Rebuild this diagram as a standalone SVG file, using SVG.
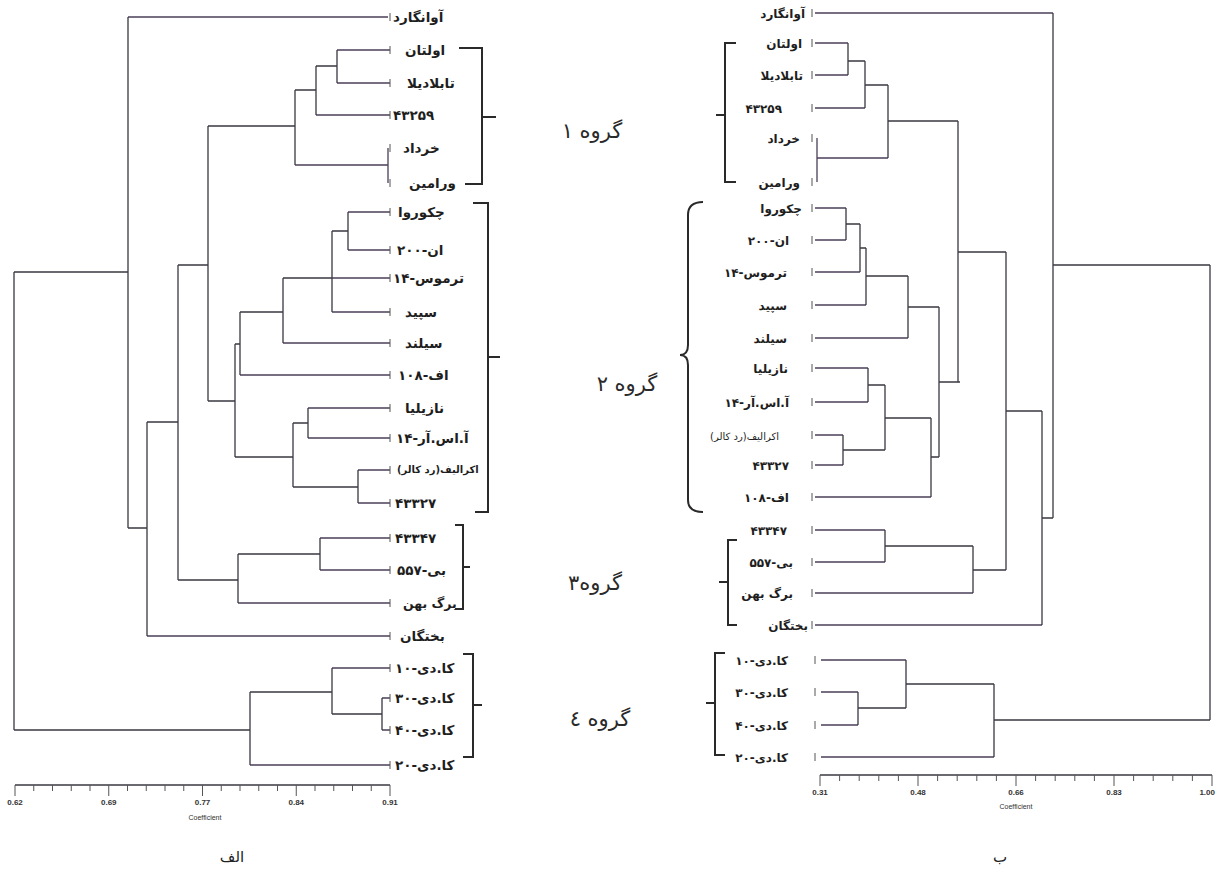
<svg xmlns="http://www.w3.org/2000/svg" width="1216" height="871" viewBox="0 0 1216 871">
  <style>
    .ln { fill: none; stroke: #3b3842; stroke-width: 1.3; }
    .lf { fill: none; stroke: #4b3f58; stroke-width: 1.3; }
    .tk { fill: none; stroke: #555; stroke-width: 1; }
    .br { fill: none; stroke: #2a2a2a; stroke-width: 2; }
    .ax { fill: none; stroke: #3b3842; stroke-width: 1.6; }
    .lbl { font-family: "DejaVu Sans", sans-serif; font-weight: bold; font-size: 13.5px; fill: #1e1e1e; }
    .lbr { font-family: "DejaVu Sans", sans-serif; font-weight: bold; font-size: 12px; fill: #1e1e1e; }
    .grp { font-family: "DejaVu Sans", sans-serif; font-size: 21px; fill: #2a2a2a; }
    .axl { font-family: "Liberation Sans", sans-serif; font-size: 8px; font-weight: bold; fill: #333; }
    .cap { font-family: "Liberation Sans", sans-serif; font-size: 7px; fill: #333; }
    .ttl { font-family: "DejaVu Sans", sans-serif; font-size: 15px; fill: #222; }
  </style>

  <rect width="1216" height="871" fill="#ffffff"/>

  <!-- ===== dendrogram A (left) ===== -->
  <g id="tree-a-connectors">
    <!-- leaves -->
    <path class="lf" d="M128 17H388 M337 50H390 M337 83H390 M316 115H390
                       M388 148V183 M295 165H388
                       M348 212H390 M348 250H390 M332 278H390 M332 312H390
                       M283 343H390 M240 375H390 M308 408H390 M308 438H390
                       M358 470H390 M358 503H390
                       M320 538H390 M320 570H390 M238 603H390 M147 636H390
                       M332 668H390 M382 698H390 M382 730H390 M250 765H390"/>
    <!-- group 1 -->
    <path class="ln" d="M337 50V83 M337 66H316 M316 66V115 M316 90H295 M295 90V165 M295 126H208"/>
    <!-- group 2 -->
    <path class="ln" d="M348 212V250 M348 231H332 M332 231V312 M332 278H283 M283 278V343 M283 312H240
                       M240 312V375 M240 344H235 M308 408V438 M308 423H293 M358 470V503 M358 487H293
                       M293 423V487 M293 457H235 M235 344V457 M235 401H208 M208 126V401 M208 265H178"/>
    <!-- group 3 -->
    <path class="ln" d="M320 538V570 M320 554H238 M238 554V603 M238 580H178 M178 265V580 M178 422H147
                       M147 422V636 M147 528H128 M128 17V528 M128 272H14"/>
    <!-- group 4 and root -->
    <path class="ln" d="M382 698V730 M382 714H332 M332 668V714 M332 692H250 M250 692V765 M250 730H14 M14 272V730"/>
    <!-- leaf end marks -->
    <path class="tk" d="M390 13V21 M390 46V54 M390 79V87 M390 111V119 M390 144V152 M390 179V187
                       M390 208V216 M390 246V254 M390 274V282 M390 308V316 M390 339V347 M390 371V379
                       M390 404V412 M390 434V442 M390 466V474 M390 499V507 M390 534V542 M390 566V574
                       M390 599V607 M390 632V640 M390 664V672 M390 694V702 M390 726V734 M390 761V769"/>
  </g>

  <g id="tree-a-leaves">
    <text class="lbl" x="393" y="22">آوانگارد</text>
    <text class="lbl" x="405" y="55">اولتان</text>
    <text class="lbl" x="407" y="88">تابلادیلا</text>
    <text class="lbl" x="393" y="120">۴۳۲۵۹</text>
    <text class="lbl" x="403" y="153">خرداد</text>
    <text class="lbl" x="409" y="188">ورامین</text>
    <text class="lbl" x="398" y="217">چکوروا</text>
    <text class="lbl" x="397" y="255">ان-۲۰۰</text>
    <text class="lbl" x="393" y="283">ترموس-۱۴</text>
    <text class="lbl" x="405" y="317">سپید</text>
    <text class="lbl" x="405" y="348">سیلند</text>
    <text class="lbl" x="398" y="380">اف-۱۰۸</text>
    <text class="lbl" x="405" y="413">نازیلیا</text>
    <text class="lbl" x="396" y="443">آ.اس.آر-۱۴</text>
    <text class="lbl" x="397" y="473" style="font-size:10px">اکرالیف(رد کالر)</text>
    <text class="lbl" x="395" y="508">۴۳۳۲۷</text>
    <text class="lbl" x="395" y="543">۴۳۳۴۷</text>
    <text class="lbl" x="397" y="575">بی-۵۵۷</text>
    <text class="lbl" x="403" y="608" style="font-size:12.5px">برگ بهن</text>
    <text class="lbl" x="400" y="641">بختگان</text>
    <text class="lbl" x="395" y="673">کا.دی-۱۰</text>
    <text class="lbl" x="395" y="703">کا.دی-۳۰</text>
    <text class="lbl" x="395" y="735">کا.دی-۴۰</text>
    <text class="lbl" x="395" y="770">کا.دی-۲۰</text>
  </g>

  <g id="tree-a-groups">
    <path class="br" d="M459 48H482V184H465 M482 117H496"/>
    <path class="br" d="M473 203H488V512H475 M488 357H500"/>
    <path class="br" d="M455 525H463V609H455 M463 567H470"/>
    <path class="br" d="M463 654H473V757H463 M473 705H482"/>
  </g>

  <g id="tree-a-axis">
    <path class="ax" d="M15 785H390"/>
    <path class="tk" d="M15 785V796 M33.75 785V791 M52.5 785V791 M71.25 785V791 M90 785V791
                       M108.75 785V796 M127.5 785V791 M146.25 785V791 M165 785V791 M183.75 785V791
                       M202.5 785V796 M221.25 785V791 M240 785V791 M258.75 785V791 M277.5 785V791
                       M296.25 785V796 M315 785V791 M333.75 785V791 M352.5 785V791 M371.25 785V791 M390 785V796"/>
    <text class="axl" x="15" y="805" text-anchor="middle">0.62</text>
    <text class="axl" x="108.75" y="805" text-anchor="middle">0.69</text>
    <text class="axl" x="202.5" y="805" text-anchor="middle">0.77</text>
    <text class="axl" x="296.25" y="805" text-anchor="middle">0.84</text>
    <text class="axl" x="390" y="805" text-anchor="middle">0.91</text>
    <text class="cap" x="205" y="820" text-anchor="middle">Coefficient</text>
    <text class="ttl" x="232" y="862" text-anchor="middle">الف</text>
  </g>

  <!-- ===== group captions ===== -->
  <g id="group-captions">
    <text class="grp" x="592" y="138" text-anchor="middle">گروه ۱</text>
    <text class="grp" x="627" y="391" text-anchor="middle">گروه ۲</text>
    <text class="grp" x="595" y="590" text-anchor="middle">گروه۳</text>
    <text class="grp" x="600" y="726" text-anchor="middle">گروه ٤</text>
  </g>

  <!-- ===== dendrogram B (right) ===== -->
  <g id="tree-b-connectors">
    <!-- leaves -->
    <path class="lf" d="M815 13H1053 M815 43H848 M815 75H848 M815 108H865
                       M817 138V182 M817 158H888
                       M815 208H846 M815 240H846 M815 272H860 M815 305H866 M815 338H908
                       M815 368H868 M815 402H868 M815 435H843 M815 465H843 M815 497H931
                       M815 530H885 M815 562H885 M815 593H973 M815 625H1042
                       M821 660H906 M821 692H858 M821 725H858 M821 757H994"/>
    <!-- group 1 -->
    <path class="ln" d="M848 43V75 M848 61H865 M865 61V108 M865 85H888 M888 85V158 M888 121H958"/>
    <!-- group 2 -->
    <path class="ln" d="M846 208V240 M846 224H860 M860 224V272 M860 248H866 M866 248V305 M866 276H908
                       M908 276V338 M908 307H939 M868 368V402 M868 385H885 M843 435V465 M843 450H885
                       M885 385V450 M885 418H931 M931 418V497 M931 457H939 M939 307V457 M939 382H960
                       M958 121V382 M958 252H1006"/>
    <!-- group 3 -->
    <path class="ln" d="M885 530V562 M885 546H973 M973 546V593 M973 570H1006 M1006 252V570 M1006 411H1042
                       M1042 411V625 M1042 518H1053 M1053 13V518 M1053 265H1210"/>
    <!-- group 4 and root -->
    <path class="ln" d="M858 692V725 M858 708H906 M906 660V708 M906 684H994 M994 684V757 M994 720H1210 M1210 265V720"/>
    <!-- leaf end marks -->
    <path class="tk" d="M812 9V17 M812 39V47 M812 71V79 M812 104V112 M812 134V142 M812 178V186
                       M812 204V212 M812 236V244 M812 268V276 M812 301V309 M812 334V342 M812 364V372
                       M812 398V406 M812 431V439 M812 461V469 M812 493V501 M812 526V534 M812 558V566
                       M812 589V597 M812 621V629 M815 656V664 M815 688V696 M815 721V729 M815 753V761"/>
  </g>

  <g id="tree-b-leaves">
    <text class="lbr" x="805" y="18" text-anchor="end">آوانگارد</text>
    <text class="lbr" x="802" y="48" text-anchor="end">اولتان</text>
    <text class="lbr" x="803" y="80" text-anchor="end">تابلادیلا</text>
    <text class="lbr" x="782" y="113" text-anchor="end">۴۳۲۵۹</text>
    <text class="lbr" x="800" y="143" text-anchor="end">خرداد</text>
    <text class="lbr" x="800" y="187" text-anchor="end">ورامین</text>
    <text class="lbr" x="802" y="213" text-anchor="end">چکوروا</text>
    <text class="lbr" x="789" y="245" text-anchor="end">ان-۲۰۰</text>
    <text class="lbr" x="787" y="277" text-anchor="end">ترموس-۱۴</text>
    <text class="lbr" x="787" y="310" text-anchor="end">سپید</text>
    <text class="lbr" x="787" y="343" text-anchor="end">سیلند</text>
    <text class="lbr" x="788" y="373" text-anchor="end">نازیلیا</text>
    <text class="lbr" x="789" y="407" text-anchor="end">آ.اس.آر-۱۴</text>
    <text class="lbr" x="779" y="440" text-anchor="end" style="font-size:10px;font-weight:normal">اکرالیف(رد کالر)</text>
    <text class="lbr" x="789" y="470" text-anchor="end">۴۳۳۲۷</text>
    <text class="lbr" x="789" y="502" text-anchor="end">اف-۱۰۸</text>
    <text class="lbr" x="787" y="535" text-anchor="end">۴۳۳۴۷</text>
    <text class="lbr" x="793" y="567" text-anchor="end">بی-۵۵۷</text>
    <text class="lbr" x="793" y="598" text-anchor="end">برگ بهن</text>
    <text class="lbr" x="808" y="630" text-anchor="end">بختگان</text>
    <text class="lbr" x="788" y="665" text-anchor="end">کا.دی-۱۰</text>
    <text class="lbr" x="788" y="697" text-anchor="end">کا.دی-۳۰</text>
    <text class="lbr" x="788" y="730" text-anchor="end">کا.دی-۴۰</text>
    <text class="lbr" x="788" y="762" text-anchor="end">کا.دی-۲۰</text>
  </g>

  <g id="tree-b-groups">
    <path class="br" d="M736 43H725V182H736 M725 115H716"/>
    <path class="br" d="M703 202Q688 202 688 215V345Q688 355 680 355Q688 355 688 365V500Q688 512 703 512"/>
    <path class="br" d="M737 540H728V625H737 M728 582H719"/>
    <path class="br" d="M725 653H715V755H725 M715 703H706"/>
  </g>

  <g id="tree-b-axis">
    <path class="ax" d="M820 775H1212"/>
    <path class="tk" d="M820 775V786 M839.6 775V781 M859.2 775V781 M878.8 775V781 M898.4 775V781
                       M918 775V786 M937.6 775V781 M957.2 775V781 M976.8 775V781 M996.4 775V781
                       M1016 775V786 M1035.6 775V781 M1055.2 775V781 M1074.8 775V781 M1094.4 775V781
                       M1114 775V786 M1133.6 775V781 M1153.2 775V781 M1172.8 775V781 M1192.4 775V781 M1212 775V786"/>
    <text class="axl" x="820" y="795" text-anchor="middle">0.31</text>
    <text class="axl" x="918" y="795" text-anchor="middle">0.48</text>
    <text class="axl" x="1016" y="795" text-anchor="middle">0.66</text>
    <text class="axl" x="1114" y="795" text-anchor="middle">0.83</text>
    <text class="axl" x="1215" y="795" text-anchor="end">1.00</text>
    <text class="cap" x="1016" y="809" text-anchor="middle">Coefficient</text>
    <text class="ttl" x="1000" y="862" text-anchor="middle">ب</text>
  </g>
</svg>
